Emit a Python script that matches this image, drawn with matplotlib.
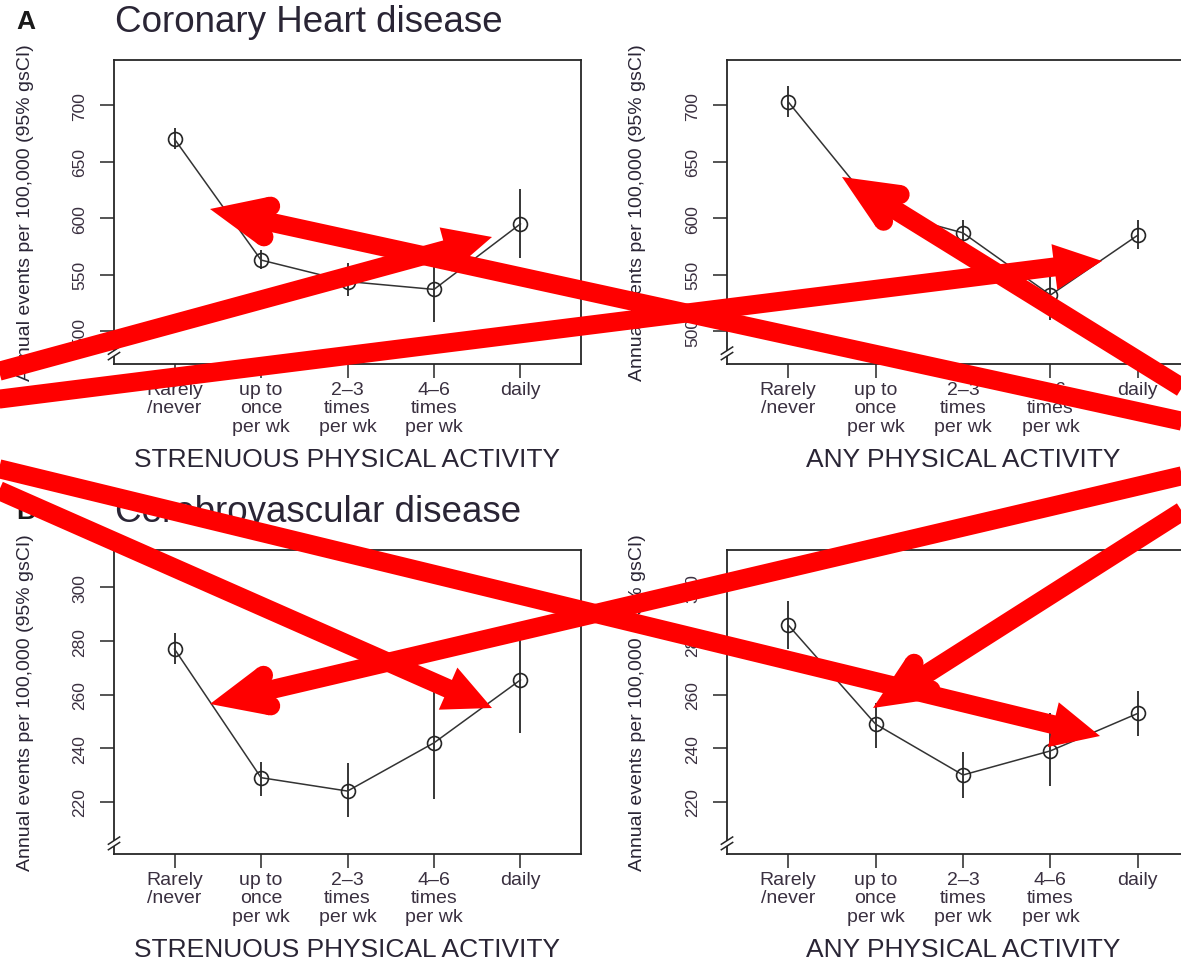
import numpy as np
import matplotlib
matplotlib.use("Agg")
import matplotlib.pyplot as plt
from matplotlib.lines import Line2D
from matplotlib.patches import Polygon, Rectangle

plt.rcParams['font.family'] = ['Liberation Sans', 'DejaVu Sans']

W, H = 1181, 962

# ---- data ----
categories = ["Rarely\n/never", "up to\nonce\nper wk", "2\u20133\ntimes\nper wk",
              "4\u20136\ntimes\nper wk", "daily"]

chd_strenuous = [670, 563, 544, 537, 595]
chd_strenuous_lo = [661, 555, 531, 508, 565]
chd_strenuous_hi = [680, 572, 560, 558, 626]

chd_any = [703, 608, 587, 532, 585]
chd_any_lo = [690, 599, 575, 510, 573]
chd_any_hi = [717, 617, 598, 556, 598]

cvd_strenuous = [277, 229, 224, 242, 265.5]
cvd_strenuous_lo = [271.5, 222, 214.5, 221, 245.5]
cvd_strenuous_hi = [283, 235, 234.5, 262, 287]

cvd_any = [286, 249, 230, 239, 253]
cvd_any_lo = [277, 240, 221.5, 226, 244.5]
cvd_any_hi = [295, 257, 238.5, 253, 261.5]

chd_ticks = [500, 550, 600, 650, 700]
cvd_ticks = [220, 240, 260, 280, 300]

ylab = "Annual events per 100,000 (95% gsCI)"

# red overlay arrows (pixel positions in the picture): kind, tail, tip
ARROWS = [
    ("open", (1181, 422), (210, 210)),
    ("filled", (0, 372), (492, 238)),
    ("filled", (0, 400), (1102, 262)),
    ("open", (1181, 388), (842, 178)),
    ("filled", (0, 470), (1100, 737)),
    ("filled", (0, 492), (492, 709)),
    ("open", (1181, 477), (210, 705)),
    ("open", (1181, 513), (873, 709)),
]

fig = plt.figure(figsize=(W / 100, H / 100), dpi=100)
fig.patch.set_facecolor("white")

ink = "#262626"
txt = "#2a2535"


def px(x, y):
    return (x / W, 1 - y / H)


def make_panel(rect, vals, lo, hi, ticks, ylim, xlabel):
    ax = fig.add_axes(rect)
    x = np.arange(1, len(vals) + 1)
    ax.vlines(x, lo, hi, color=ink, lw=1.3, zorder=2)
    ax.plot(x, vals, color="#333333", lw=1.1, zorder=3)
    ax.plot(x, vals, 'o', ms=10, mfc="none", mec=ink, mew=1.2, zorder=4)
    ax.set_xlim(0.30, 5.70)
    ax.set_ylim(*ylim)
    ax.set_xticks(x)
    ax.set_xticklabels(categories, fontsize=14, linespacing=1.12, color="#3a3040")
    ax.set_yticks(ticks)
    ax.set_yticklabels([str(t) for t in ticks], fontsize=12.5, rotation=90,
                       va="center", color="#3a3040")
    ax.tick_params(axis="x", direction="out", length=10, width=1.1, pad=2, color=ink)
    ax.tick_params(axis="y", direction="out", length=10, width=1.1, pad=9, color=ink)
    for s in ax.spines.values():
        s.set_color(ink)
        s.set_linewidth(1.3)
    ax.set_xlabel(xlabel, fontsize=19, color=txt, va="center")
    ax.xaxis.set_label_coords(0.5, -0.3125)
    ax.set_ylabel(ylab, fontsize=14, color=txt, va="center")
    ax.yaxis.set_label_coords(-0.19, 0.5)
    # axis break on the left spine
    ax.add_patch(Rectangle((-0.01, 0.026), 0.02, 0.018, transform=ax.transAxes,
                           fc="white", ec="none", clip_on=False, zorder=5))
    for yy in (0.026, 0.044):
        ax.add_line(Line2D([-0.012, 0.012], [yy - 0.012, yy + 0.012],
                           transform=ax.transAxes, color=ink, lw=1.1,
                           clip_on=False, zorder=6))
    return ax


hgt = 304 / H
make_panel([114 / W, 1 - 365 / H, 467 / W, hgt], chd_strenuous, chd_strenuous_lo,
           chd_strenuous_hi, chd_ticks, (471, 740), "STRENUOUS PHYSICAL ACTIVITY")
make_panel([727 / W, 1 - 365 / H, 472 / W, hgt], chd_any, chd_any_lo,
           chd_any_hi, chd_ticks, (471, 740), "ANY PHYSICAL ACTIVITY")
make_panel([114 / W, 1 - 855 / H, 467 / W, hgt], cvd_strenuous, cvd_strenuous_lo,
           cvd_strenuous_hi, cvd_ticks, (200.5, 314), "STRENUOUS PHYSICAL ACTIVITY")
make_panel([727 / W, 1 - 855 / H, 472 / W, hgt], cvd_any, cvd_any_lo,
           cvd_any_hi, cvd_ticks, (200.5, 314), "ANY PHYSICAL ACTIVITY")

fig.text(*px(26, 22), "A", fontsize=19, fontweight="bold", ha="center", va="center", color="#1a1a1a")
fig.text(*px(115, 22), "Coronary Heart disease", fontsize=26.5, ha="left", va="center", color=txt)
fig.text(*px(26, 512), "B", fontsize=19, fontweight="bold", ha="center", va="center", color="#1a1a1a")
fig.text(*px(115, 512), "Cerebrovascular disease", fontsize=26.5, ha="left", va="center", color=txt)

# ---- red arrows drawn over everything ----
red = "#ff0000"
w = 19.0
lw_pt = w * 72 / 100


def unit(v):
    v = np.asarray(v, float)
    return v / np.hypot(*v)


def rot(v, a):
    c, s = np.cos(a), np.sin(a)
    return np.array([c * v[0] - s * v[1], s * v[0] + c * v[1]])


def to_fig(pts):
    return [px(p[0], p[1]) for p in pts]


def add_line(p0, p1, cap):
    (x0, y0), (x1, y1) = to_fig([p0, p1])
    fig.add_artist(Line2D([x0, x1], [y0, y1], color=red, lw=lw_pt,
                          solid_capstyle=cap, zorder=20))


for kind, tail, tip in ARROWS:
    T = np.array(tip, float)
    d = unit(np.array(tail, float) - T)
    far = np.array(tail, float) + 40 * d
    if kind == "filled":
        hl, hw = 48, 23
        n = np.array([-d[1], d[0]])
        base = T + hl * d
        fig.add_artist(Polygon(to_fig([T, base + hw * n, base - hw * n]), closed=True,
                               fc=red, ec="none", zorder=21))
        add_line(base - 3 * d, far, "butt")
    else:
        th = np.radians(24)
        L = 60
        a1, a2 = rot(d, th), rot(d, -th)
        n1 = unit(d - np.dot(d, a1) * a1)
        n2 = unit(d - np.dot(d, a2) * a2)
        Pin = T + (w / np.sin(th)) * d
        poly = [T, T + L * a1, T + L * a1 + w * n1, Pin, T + L * a2 + w * n2, T + L * a2]
        fig.add_artist(Polygon(to_fig(poly), closed=True, fc=red, ec="none", zorder=21))
        for a, nn in ((a1, n1), (a2, n2)):
            c = T + L * a + 0.5 * w * nn
            add_line(c - 1.0 * a, c, "round")
        add_line(Pin - 2 * d, far, "butt")

fig.savefig("out.png", dpi=100)
